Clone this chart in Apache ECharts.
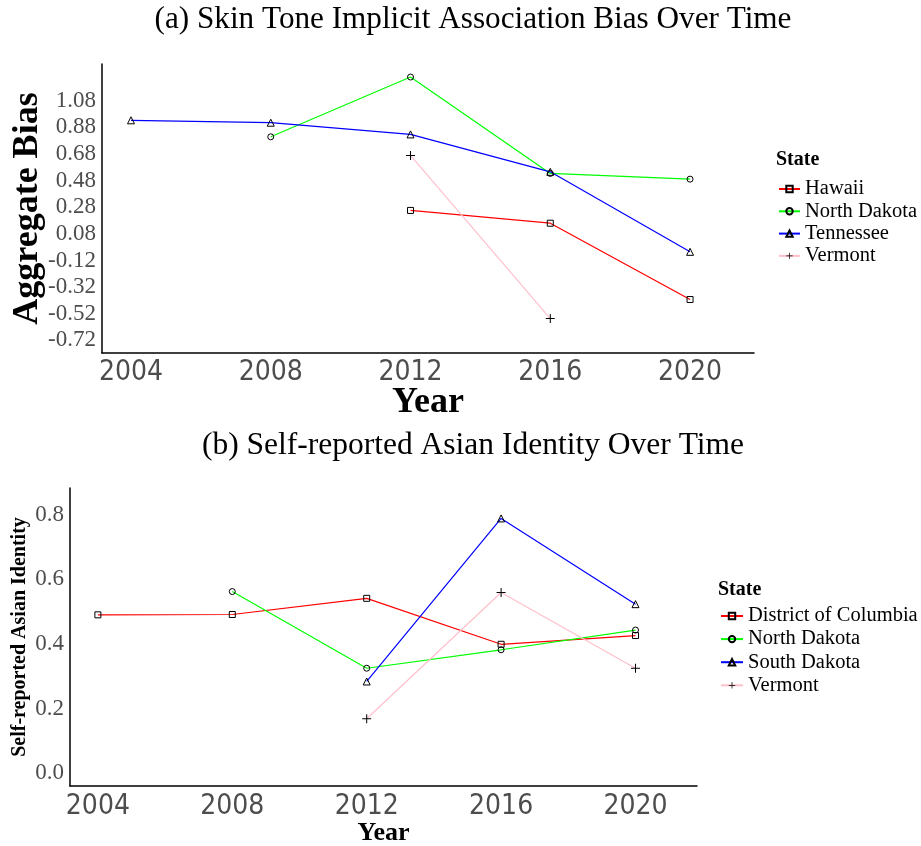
<!DOCTYPE html>
<html>
<head>
<meta charset="utf-8">
<script src="https://cdn.jsdelivr.net/npm/echarts@6/dist/echarts.min.js"></script>
<style>
  html, body { margin: 0; padding: 0; background: #fff; }
  #chart { width: 921px; height: 846px; }
</style>
</head>
<body>
<div id="chart"></div>
<script>
// Survey years shared by both panels
const years = [2004, 2008, 2012, 2016, 2020];

// Panel (a): aggregate skin tone IAT bias by state (null = no survey)
const hawaiiBias      = [null, null, 0.256, 0.160, -0.413];
const northDakotaBias = [null, 0.809, 1.258, 0.534, 0.491];
const tennesseeBias   = [0.933, 0.915, 0.827, 0.546, -0.055];
const vermontBias     = [null, null, 0.669, -0.556, null];

// Panel (b): self-reported Asian identity by state
const dcAsian          = [0.490, 0.491, 0.541, 0.399, 0.426];
const northDakotaAsian = [null, 0.562, 0.325, 0.382, 0.443];
const southDakotaAsian = [null, null, 0.284, 0.788, 0.523];
const vermontAsian     = [null, null, 0.169, 0.559, 0.325];

// Tick labels
const yearTicks  = [2004, 2008, 2012, 2016, 2020];
const biasTicks  = [-0.72, -0.52, -0.32, -0.12, 0.08, 0.28, 0.48, 0.68, 0.88, 1.08];
const asianTicks = [0.0, 0.2, 0.4, 0.6, 0.8];

const SERIF = '"Liberation Serif", "Times New Roman", serif';
const NARROW = '"Liberation Sans Narrow", "DejaVu Sans Condensed", sans-serif';

function pairs(values) {
  const out = [];
  values.forEach((v, i) => { if (v !== null) out.push([years[i], v]); });
  return out;
}

const plusPath = 'path://M4,0h1v4h4v1h-4v4h-1v-4h-4v-1h4z';

const stateStyle = {
  square:   { symbol: 'rect', symbolSize: 6 },
  circle:   { symbol: 'circle', symbolSize: 6 },
  triangle: { symbol: 'triangle', symbolSize: 7 },
  plus:     { symbol: plusPath, symbolSize: 9 }
};

function makeSeries(name, values, color, shape, idx) {
  const s = stateStyle[shape];
  const isPlus = shape === 'plus';
  return {
    name: name,
    type: 'line',
    xAxisIndex: idx,
    yAxisIndex: idx,
    data: pairs(values),
    symbol: s.symbol,
    symbolSize: s.symbolSize,
    showSymbol: true,
    animation: false,
    lineStyle: { color: color, width: 1.2 },
    itemStyle: isPlus
      ? { color: '#000', borderWidth: 0 }
      : { color: 'rgba(255,255,255,0)', borderColor: '#000', borderWidth: 1 },
    emphasis: { disabled: true },
    z: isPlus ? 3 : 2
  };
}

function xAxisFor(idx, labelSize, labelMargin, nameSize, nameGap) {
  return {
    type: 'value',
    gridIndex: idx,
    min: 2003.17,
    max: 2021.83,
    name: 'Year',
    nameLocation: 'middle',
    nameGap: nameGap,
    nameMoveOverlap: false,
    nameTextStyle: { fontFamily: SERIF, fontWeight: 'bold', fontSize: nameSize, color: '#000' },
    axisLine: { show: true, onZero: false, lineStyle: { color: '#000', width: 1.5 } },
    axisTick: { show: false },
    splitLine: { show: false },
    axisLabel: {
      customValues: yearTicks,
      formatter: v => String(v),
      fontFamily: NARROW,
      fontSize: labelSize,
      color: '#4d4d4d',
      margin: labelMargin
    }
  };
}

function yAxisFor(idx, min, max, ticks, digits, name, nameSize, nameGap) {
  return {
    type: 'value',
    gridIndex: idx,
    min: min,
    max: max,
    name: name,
    nameLocation: 'middle',
    nameRotate: 90,
    nameGap: nameGap,
    nameMoveOverlap: false,
    nameTextStyle: { fontFamily: SERIF, fontWeight: 'bold', fontSize: nameSize, color: '#000' },
    axisLine: { show: true, onZero: false, lineStyle: { color: '#000', width: 1.5 } },
    axisTick: { show: false },
    splitLine: { show: false },
    axisLabel: {
      customValues: ticks,
      formatter: v => Number(v).toFixed(digits),
      fontFamily: SERIF,
      fontSize: 23,
      color: '#4d4d4d',
      margin: 6
    }
  };
}

const chart = echarts.init(document.getElementById('chart'), null, { renderer: 'canvas' });

chart.setOption({
  backgroundColor: '#fff',
  animation: false,
  grid: [
    { left: 102, top: 64, width: 652, height: 289, containLabel: false, outerBoundsMode: 'none' },
    { left: 70, top: 488, width: 627, height: 298, containLabel: false, outerBoundsMode: 'none' }
  ],
  xAxis: [
    xAxisFor(0, 28, 6, 36, 32),
    xAxisFor(1, 28, 7, 26, 34)
  ],
  yAxis: [
    yAxisFor(0, -0.815, 1.356, biasTicks, 2, 'Aggregate Bias', 36, 56),
    yAxisFor(1, -0.039, 0.882, asianTicks, 1, 'Self-reported Asian Identity', 20, 40)
  ],
  legend: [
    {
      data: ['Hawaii', 'North Dakota', 'Tennessee', 'Vermont'],
      orient: 'vertical',
      left: 778,
      top: 178,
      itemWidth: 21,
      itemHeight: 8,
      itemGap: 0.3,
      selectedMode: false,
      padding: 0,
      textStyle: { fontFamily: SERIF, fontSize: 20.5, lineHeight: 22, color: '#000' }
    },
    {
      data: ['District of Columbia', 'North Dakota', 'South Dakota', 'Vermont'],
      orient: 'vertical',
      left: 720,
      top: 605,
      itemWidth: 22,
      itemHeight: 8,
      itemGap: 1.1,
      selectedMode: false,
      padding: 0,
      textStyle: { fontFamily: SERIF, fontSize: 20.5, lineHeight: 22, color: '#000' }
    }
  ],
  graphic: [
    {
      type: 'text', x: 473, y: 20,
      style: { text: '(a) Skin Tone Implicit Association Bias Over Time',
               font: '31.2px ' + SERIF, fill: '#000', align: 'center', verticalAlign: 'middle' }
    },
    {
      type: 'text', x: 473, y: 446,
      style: { text: '(b) Self-reported Asian Identity Over Time',
               font: '31.5px ' + SERIF, fill: '#000', align: 'center', verticalAlign: 'middle' }
    },
    {
      type: 'text', x: 776, y: 160,
      style: { text: 'State', font: 'bold 20px ' + SERIF, fill: '#000', verticalAlign: 'middle' }
    },
    {
      type: 'text', x: 718, y: 590,
      style: { text: 'State', font: 'bold 20px ' + SERIF, fill: '#000', verticalAlign: 'middle' }
    }
  ],
  series: [
    makeSeries('Hawaii', hawaiiBias, '#ff0000', 'square', 0),
    makeSeries('North Dakota', northDakotaBias, '#00ff00', 'circle', 0),
    makeSeries('Tennessee', tennesseeBias, '#0000ff', 'triangle', 0),
    makeSeries('Vermont', vermontBias, '#ffc0cb', 'plus', 0),
    makeSeries('District of Columbia', dcAsian, '#ff0000', 'square', 1),
    makeSeries('North Dakota', northDakotaAsian, '#00ff00', 'circle', 1),
    makeSeries('South Dakota', southDakotaAsian, '#0000ff', 'triangle', 1),
    makeSeries('Vermont', vermontAsian, '#ffc0cb', 'plus', 1)
  ]
});
</script>
</body>
</html>
